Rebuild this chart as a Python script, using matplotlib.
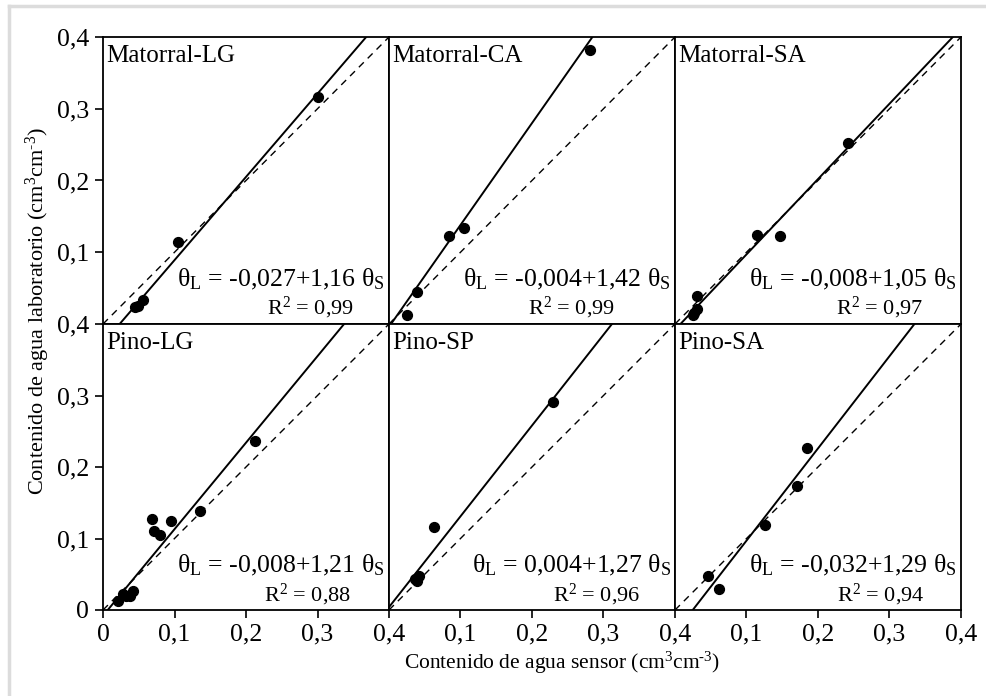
import matplotlib
matplotlib.use("Agg")
import matplotlib.pyplot as plt
import numpy as np
from matplotlib.lines import Line2D

plt.rcParams['font.family'] = ['Liberation Serif', 'DejaVu Serif']
plt.rcParams['mathtext.fontset'] = 'custom'
plt.rcParams['mathtext.rm'] = 'Liberation Serif'
plt.rcParams['mathtext.it'] = 'Liberation Serif:italic'
plt.rcParams['mathtext.bf'] = 'Liberation Serif:bold'

# ---------------- data ----------------
panel_names = ["Matorral-LG", "Matorral-CA", "Matorral-SA",
               "Pino-LG", "Pino-SP", "Pino-SA"]

sensor_mlg = [0.301, 0.105, 0.045, 0.049, 0.056]
lab_mlg = [0.316, 0.114, 0.024, 0.025, 0.033]

sensor_mca = [0.281, 0.105, 0.084, 0.039, 0.025]
lab_mca = [0.382, 0.134, 0.123, 0.045, 0.013]

sensor_msa = [0.242, 0.115, 0.147, 0.031, 0.031, 0.027, 0.025]
lab_msa = [0.252, 0.124, 0.123, 0.039, 0.021, 0.016, 0.013]

sensor_plg = [0.213, 0.135, 0.095, 0.068, 0.072, 0.080, 0.042, 0.038, 0.032, 0.021, 0.028]
lab_plg = [0.236, 0.139, 0.125, 0.127, 0.111, 0.105, 0.027, 0.020, 0.020, 0.012, 0.022]

sensor_psp = [0.229, 0.063, 0.042, 0.039, 0.037]
lab_psp = [0.291, 0.116, 0.048, 0.040, 0.044]

sensor_psa = [0.185, 0.171, 0.126, 0.046, 0.061]
lab_psa = [0.227, 0.173, 0.119, 0.048, 0.029]

intercepts = [-0.027, -0.004, -0.008, -0.008, 0.004, -0.032]
slopes = [1.16, 1.42, 1.05, 1.21, 1.27, 1.29]
eq_labels = [r"θ$_{\rm L}$ = -0,027+1,16 θ$_{\rm S}$",
             r"θ$_{\rm L}$ = -0,004+1,42 θ$_{\rm S}$",
             r"θ$_{\rm L}$ = -0,008+1,05 θ$_{\rm S}$",
             r"θ$_{\rm L}$ = -0,008+1,21 θ$_{\rm S}$",
             r"θ$_{\rm L}$ = 0,004+1,27 θ$_{\rm S}$",
             r"θ$_{\rm L}$ = -0,032+1,29 θ$_{\rm S}$"]
r2_labels = [r"R$^{2}$ = 0,99", r"R$^{2}$ = 0,99", r"R$^{2}$ = 0,97",
             r"R$^{2}$ = 0,88", r"R$^{2}$ = 0,96", r"R$^{2}$ = 0,94"]

tick_vals = [0, 0.1, 0.2, 0.3, 0.4]
tick_labels = ["0", "0,1", "0,2", "0,3", "0,4"]

xlabel = r"Contenido de agua sensor (cm$^{3}$cm$^{\text{-}3}$)"
ylabel = r"Contenido de agua laboratorio (cm$^{3}$cm$^{\text{-}3}$)"

sensors = [sensor_mlg, sensor_mca, sensor_msa, sensor_plg, sensor_psp, sensor_psa]
labs = [lab_mlg, lab_mca, lab_msa, lab_plg, lab_psp, lab_psa]

# ---------------- layout ----------------
W, H = 987, 696
fig = plt.figure(figsize=(W / 100, H / 100), dpi=100)

col_left = [103, 389, 675]
col_w = 286
row_top = [37, 324]
row_h = [287, 286]

r2_x = [0.573, 0.486, 0.563, 0.563, 0.573, 0.566]

# light gray frame lines (top and left)
fig.add_artist(Line2D([9 / W, 1.0], [1 - 6 / H, 1 - 6 / H], color="#dcdcdc", lw=2.5,
                      transform=fig.transFigure))
fig.add_artist(Line2D([9 / W, 9 / W], [0.0, 1 - 6 / H], color="#dcdcdc", lw=2.5,
                      transform=fig.transFigure))

for i in range(6):
    r, c = divmod(i, 3)
    left = col_left[c] / W
    bottom = 1 - (row_top[r] + row_h[r]) / H
    ax = fig.add_axes([left, bottom, col_w / W, row_h[r] / H])
    ax.set_xlim(0, 0.4)
    ax.set_ylim(0, 0.4)
    for s in ax.spines.values():
        s.set_linewidth(1.3)

    xs = np.array([0.0, 0.4])
    ax.plot(xs, xs, color="black", lw=1.0, ls=(0, (5, 4)))
    ax.plot(xs, intercepts[i] + slopes[i] * xs, color="black", lw=1.4)
    ax.scatter(sensors[i], labs[i], s=50, color="black", zorder=5, clip_on=False)

    ax.text(0.012, 0.972, panel_names[i], transform=ax.transAxes, ha="left", va="top",
            fontsize=18)
    ax.text(0.985, 0.13, eq_labels[i], transform=ax.transAxes, ha="right",
            va="baseline", fontsize=18.5)
    ax.text(r2_x[i], 0.032, r2_labels[i], transform=ax.transAxes, ha="left",
            va="baseline", fontsize=16)

    ax.tick_params(direction="out", length=6, width=1.2, labelsize=18.5, pad=4)
    if c == 0:
        if r == 0:
            ax.set_yticks(tick_vals[1:])
            ax.set_yticklabels(tick_labels[1:])
        else:
            ax.set_yticks(tick_vals)
            ax.set_yticklabels(tick_labels)
    else:
        ax.set_yticks([])
    if r == 1:
        if c == 0:
            ax.set_xticks(tick_vals)
            ax.set_xticklabels(tick_labels)
        else:
            ax.set_xticks(tick_vals[1:])
            ax.set_xticklabels(tick_labels[1:])
    else:
        ax.set_xticks([])

fig.text(562 / W, 1 - 663 / H, xlabel, ha="center", va="center", fontsize=15.5)
fig.text(38 / W, 1 - 311 / H, ylabel, ha="center", va="center", rotation=90, fontsize=16)

fig.savefig("out.png", dpi=100)
